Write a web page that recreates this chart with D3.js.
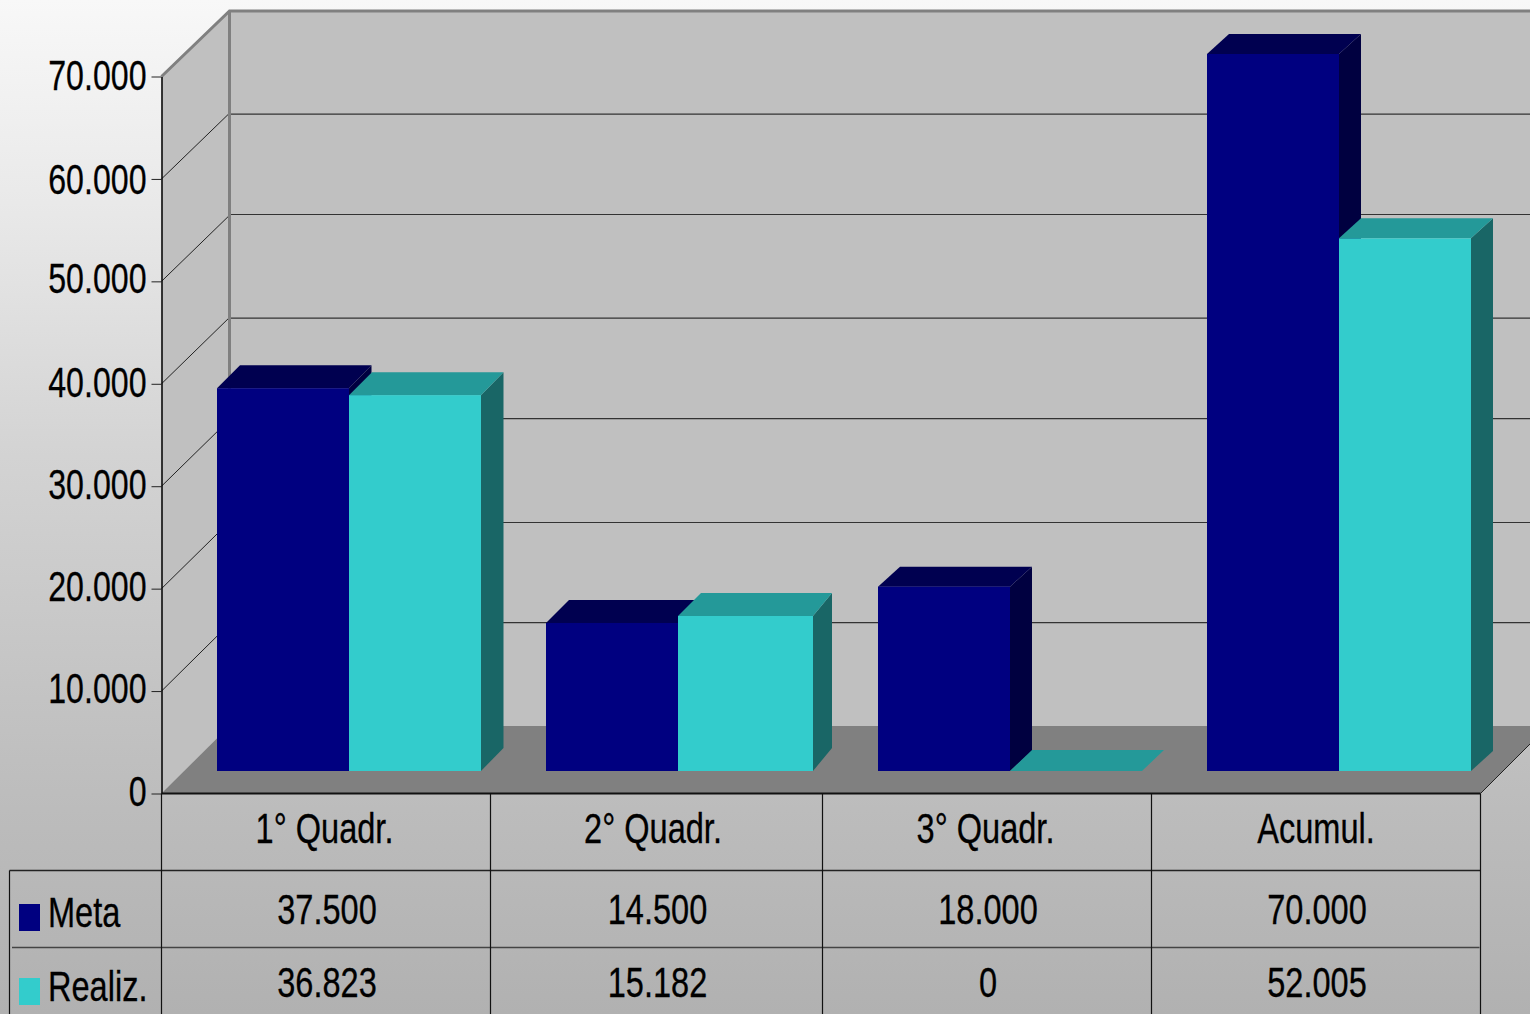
<!DOCTYPE html>
<html><head><meta charset="utf-8">
<script src="https://cdn.jsdelivr.net/npm/d3@7"></script>
<style>html,body{margin:0;padding:0;overflow:hidden;background:#fff}svg{display:block}
text{font-family:"Liberation Sans",Arial,sans-serif;font-size:42px;fill:#000;stroke:#000;stroke-width:.3px}</style>
</head><body><svg id="c" width="1530" height="1014"></svg>
<script>
const categories = ["1° Quadr.","2° Quadr.","3° Quadr.","Acumul."];
const seriesNames = ["Meta","Realiz."];
const meta = [37500,14500,18000,70000];
const realiz = [36823,15182,0,52005];
const yTicks = [0,10000,20000,30000,40000,50000,60000,70000];

const W=1530,H=1014;
const svg=d3.select("#c");
const fmt=d3.formatLocale({decimal:",",thousands:".",grouping:[3],currency:["",""]}).format(",d");
const colors={Meta:{f:"#000080",t:"#000050",s:"#000040"},"Realiz.":{f:"#33cccc",t:"#249999",s:"#196666"}};
const values={Meta:meta,"Realiz.":realiz};

const defs=svg.append("defs");
const g=defs.append("linearGradient").attr("id","bg").attr("x1",0).attr("y1",0).attr("x2",0).attr("y2",1);
[[0,"#f8f8f8"],[.2,"#e9e9e9"],[.45,"#d3d3d3"],[.78,"#bdbdbd"],[1,"#b1b1b1"]].forEach(s=>g.append("stop").attr("offset",s[0]).attr("stop-color",s[1]));
svg.append("rect").attr("width",W).attr("height",H).attr("fill","url(#bg)");

const left=161.5,right=1480.5,dxWall=68;
const edges=[161.5,490.5,822.5,1151.5,1480.5];
const x=d3.scaleOrdinal().domain(categories).range(edges.slice(0,4));
const bandW=(c)=>edges[categories.indexOf(c)+1]-x(c);
const yFront=d3.scaleLinear().domain([0,70000]).range([793.5,76.5]);
const yBack=d3.scaleLinear().domain([0,70000]).range([726,11]);
const yBar=d3.scaleLinear().domain([0,70000]).range([771,54]);
const bandOffset=55.5,barW=132;
// 3D depth of each group's bars, as drawn in the source picture
const depthL=[23,23,22,22],depthR=[22.5,19,22,22],depthY=[23,23,20,20],faceShift=[1.3,0.5,0,0];
const gridNudge=[-1.2,.8,-1,.6,-.8,.9];
const labelNudge=[-1,-2,-1,-1,0,-2,2,0];
const pts=a=>a.map(p=>p.join(",")).join(" ");

// walls
svg.append("polygon").attr("points",pts([[left,yFront(70000)],[left+dxWall,yBack(70000)],[W+2,yBack(70000)],[W+2,yBack(0)],[left+dxWall,yBack(0)],[left,yFront(0)]])).attr("fill","#c0c0c0");
// floor
svg.append("polygon").attr("points",pts([[left,yFront(0)],[left+dxWall,yBack(0)],[W+2,yBack(0)],[W+2,yFront(0)-(W+2-right)],[right,yFront(0)]])).attr("fill","#808080");
svg.append("line").attr("x1",right).attr("y1",yFront(0)).attr("x2",W+2).attr("y2",yFront(0)-(W+2-right)).attr("stroke","#222").attr("stroke-width",1);

// gridlines
const grid=yTicks.filter(t=>t>0&&t<70000);
svg.selectAll(".gb").data(grid).join("line").attr("x1",left+dxWall).attr("x2",W)
  .attr("y1",(d,i)=>yBack(d)+gridNudge[i]).attr("y2",(d,i)=>yBack(d)+gridNudge[i]).attr("stroke","#333").attr("stroke-width",1.2);
svg.selectAll(".gd").data(grid).join("line").attr("x1",left).attr("x2",left+dxWall).attr("y1",yFront).attr("y2",yBack).attr("stroke","#222").attr("stroke-width",1);

// wall frame
svg.append("path").attr("d",`M${left},${yFront(70000)}L${left+dxWall},${yBack(70000)}H${W}`).attr("fill","none").attr("stroke","#808080").attr("stroke-width",3);
svg.append("line").attr("x1",left+dxWall).attr("x2",left+dxWall).attr("y1",yBack(70000)).attr("y2",yBack(0)).attr("stroke","#808080").attr("stroke-width",3);

// bars
const bars=svg.append("g");
categories.forEach((c,i)=>{
  seriesNames.forEach((s,j)=>{
    const v=values[s][i];
    const x0=x(c)+bandOffset+j*barW;
    const x1=(j==1&&i==1)?x0+135:x0+barW;
    const yB=yBar(0),yT=v===0?yB:yBar(v)+faceShift[i],col=colors[s];
    const dL=depthL[i],dR=depthR[i],dY=v===0?21:depthY[i];
    bars.append("polygon").attr("points",pts([[x1,yT],[x1+dR,yT-dY],[x1+dR,yB-dY],[x1,yB]])).attr("fill",col.s);
    bars.append("polygon").attr("points",pts([[x0,yT],[x0+dL,yT-dY],[x1+dR,yT-dY],[x1,yT]])).attr("fill",col.t);
    bars.append("rect").attr("x",x0).attr("y",yT).attr("width",x1-x0).attr("height",yB-yT).attr("fill",col.f);
  });
});

const SX=.775;
function narrow(sel,px,py,anchor){
  return sel.attr("text-anchor",anchor).attr("transform",(d,i)=>`translate(${px(d,i)},${py(d,i)}) scale(${SX},1)`);
}
// axis
const axis=svg.append("g").attr("transform",`translate(${left},0)`)
  .call(d3.axisLeft(yFront).tickValues(yTicks).tickFormat(d=>d===0?"0":fmt(d)).tickSize(10).tickSizeOuter(0));
axis.select(".domain").attr("stroke","#000").attr("stroke-width",1.5);
axis.selectAll(".tick line").attr("stroke","#222");
axis.selectAll(".tick text").attr("x",null).attr("dy",null).attr("y",null)
  .style("font-size","42px").style("font-family",'"Liberation Sans",Arial,sans-serif')
  .attr("text-anchor","end").attr("transform",(d,i)=>`translate(-15,${13+labelNudge[i]}) scale(.765,1)`);

// data table
const rowY=[793.5,870.5,947.5];
const t=svg.append("g");
t.append("line").attr("x1",left).attr("x2",right).attr("y1",rowY[0]).attr("y2",rowY[0]).attr("stroke","#111").attr("stroke-width",2);
t.append("line").attr("x1",9.5).attr("x2",right).attr("y1",rowY[1]).attr("y2",rowY[1]).attr("stroke","#222").attr("stroke-width",1.5);
t.append("line").attr("x1",12).attr("x2",right-1).attr("y1",rowY[2]).attr("y2",rowY[2]).attr("stroke","#444").attr("stroke-width",1.5);
t.selectAll(".v").data(edges).join("line").attr("x1",d=>d).attr("x2",d=>d).attr("y1",rowY[0]).attr("y2",H).attr("stroke","#111").attr("stroke-width",1.2);
t.append("line").attr("x1",9.5).attr("x2",9.5).attr("y1",rowY[1]).attr("y2",H).attr("stroke","#111").attr("stroke-width",1.2);

const labelShift=[-1.5,-3.5,-1.5,0];
narrow(t.selectAll(".cat").data(categories).join("text").text(d=>d),(d,i)=>x(d)+bandW(d)/2+labelShift[i],()=>843,"middle");
const baselines=[924,997];
seriesNames.forEach((s,j)=>{
  narrow(t.selectAll(".val"+j).data(values[s]).join("text").text(d=>d===0?"0":fmt(d)),(d,i)=>x(categories[i])+bandW(categories[i])/2+1,()=>baselines[j],"middle");
});
// legend
const legY=[904,978],legBase=[927,1001];
seriesNames.forEach((s,j)=>{
  t.append("rect").attr("x",19).attr("y",legY[j]).attr("width",21).attr("height",27).attr("fill",colors[s].f);
  narrow(t.append("text").datum(s).text(s),()=>48,()=>legBase[j],"start");
});
</script></body></html>
